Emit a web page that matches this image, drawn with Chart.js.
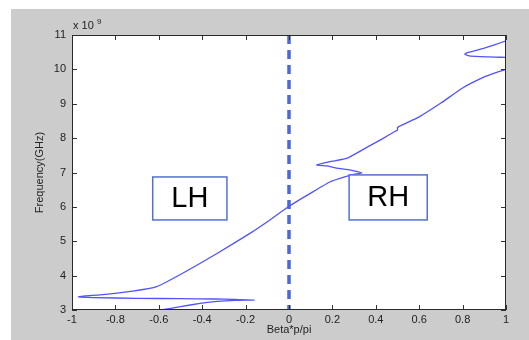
<!DOCTYPE html>
<html lang="en">
<head>
    <meta charset="UTF-8">
    <title>Dispersion</title>
    <script src="https://cdn.jsdelivr.net/npm/chart.js@4.4.1/dist/chart.umd.min.js"></script>
    <style>
        html, body {
            margin: 0;
            padding: 0;
            background: #ffffff;
        }
    </style>
</head>
<body>
    <canvas id="dispersionChart" width="529" height="340"></canvas>

    <script>
        // Beta*p/pi values and frequencies (in units of 1e9 Hz)
        const mainBeta = [
            -0.59, -0.5, -0.41, -0.33, -0.25, -0.157,
            -0.25, -0.35, -0.5, -0.7, -0.9, -0.97,
            -0.94, -0.87, -0.72, -0.61, -0.49, -0.33, -0.18, -0.088,
            0, 0.1, 0.19, 0.26, 0.31, 0.335,
            0.3, 0.266, 0.22, 0.174, 0.128,
            0.158, 0.2, 0.266, 0.35, 0.43, 0.49, 0.5, 0.5, 0.52,
            0.6, 0.7, 0.8, 0.9, 0.95, 1.0
        ];
        const mainFreq = [
            3.0, 3.1, 3.19, 3.25, 3.28, 3.29,
            3.31, 3.32, 3.33, 3.34, 3.36, 3.38,
            3.41, 3.44, 3.55, 3.68, 4.07, 4.65, 5.23, 5.62,
            6.02, 6.4, 6.73, 6.88, 6.96, 6.99,
            7.05, 7.09, 7.13, 7.19, 7.22,
            7.27, 7.33, 7.41, 7.7, 7.98, 8.2, 8.23, 8.31, 8.38,
            8.62, 9.02, 9.46, 9.78, 9.9, 10.0
        ];

        const upperBeta = [1.0, 0.95, 0.9, 0.85, 0.82, 0.81, 0.83, 0.88, 0.95, 1.0];
        const upperFreq = [10.83, 10.72, 10.62, 10.53, 10.48, 10.44, 10.39, 10.37, 10.355, 10.35];

        // boundary between left-handed and right-handed regions
        const boundaryBeta = [0, 0];
        const boundaryFreq = [11, 3];

        const xTicks = [-1, -0.8, -0.6, -0.4, -0.2, 0, 0.2, 0.4, 0.6, 0.8, 1];
        const yTicks = [3, 4, 5, 6, 7, 8, 9, 10, 11];

        // region labels: text, x range, y range (data units)
        const regionNames = ['LH', 'RH'];
        const regionX = [[-0.628, -0.286], [0.277, 0.637]];
        const regionY = [[5.62, 6.87], [5.62, 6.93]];

        function toPoints(xs, ys) {
            return xs.map((x, i) => ({ x: x, y: ys[i] }));
        }

        const curveColor = '#5252ff';

        // MATLAB-style figure: grey frame, inward ticks, box, exponent, labels
        const matlabFrame = {
            id: 'matlabFrame',
            beforeDraw(chart) {
                const ctx = chart.ctx;
                const a = chart.chartArea;
                ctx.save();
                ctx.fillStyle = '#ffffff';
                ctx.fillRect(0, 0, chart.width, chart.height);
                ctx.fillStyle = '#cccccc';
                ctx.fillRect(11, 9, chart.width - 11, chart.height - 9);
                ctx.fillStyle = '#ffffff';
                ctx.fillRect(a.left, a.top, a.right - a.left, a.bottom - a.top);
                ctx.restore();
            },
            afterDraw(chart) {
                const ctx = chart.ctx;
                const a = chart.chartArea;
                const xs = chart.scales.x;
                const ys = chart.scales.y;
                ctx.save();

                // region boxes
                ctx.strokeStyle = '#5470d0';
                ctx.lineWidth = 1.5;
                ctx.font = '29px "Liberation Sans", Arial, sans-serif';
                ctx.textAlign = 'center';
                ctx.textBaseline = 'middle';
                regionNames.forEach((name, i) => {
                    const l = xs.getPixelForValue(regionX[i][0]);
                    const r = xs.getPixelForValue(regionX[i][1]);
                    const t = ys.getPixelForValue(regionY[i][1]);
                    const b = ys.getPixelForValue(regionY[i][0]);
                    ctx.fillStyle = '#ffffff';
                    ctx.fillRect(l, t, r - l, b - t);
                    ctx.strokeRect(l, t, r - l, b - t);
                    ctx.fillStyle = '#000000';
                    ctx.fillText(name, (l + r) / 2, (t + b) / 2 + 1);
                });

                // inward tick marks on all four sides
                ctx.strokeStyle = '#333333';
                ctx.lineWidth = 1;
                ctx.beginPath();
                xTicks.forEach(v => {
                    const px = Math.round(xs.getPixelForValue(v)) + 0.5;
                    ctx.moveTo(px, a.bottom);
                    ctx.lineTo(px, a.bottom - 5);
                    ctx.moveTo(px, a.top);
                    ctx.lineTo(px, a.top + 5);
                });
                yTicks.forEach(v => {
                    const py = Math.round(ys.getPixelForValue(v)) + 0.5;
                    ctx.moveTo(a.left, py);
                    ctx.lineTo(a.left + 5, py);
                    ctx.moveTo(a.right, py);
                    ctx.lineTo(a.right - 5, py);
                });
                ctx.stroke();

                // axes box
                ctx.strokeStyle = '#2a2a2a';
                ctx.strokeRect(a.left + 0.5, a.top + 0.5, a.right - a.left - 1, a.bottom - a.top - 1);

                // exponent label
                ctx.fillStyle = '#222222';
                ctx.textAlign = 'left';
                ctx.textBaseline = 'alphabetic';
                ctx.font = '11px "Liberation Sans", Arial, sans-serif';
                ctx.fillText('x 10', a.left + 1, a.top - 6);
                ctx.font = '8px "Liberation Sans", Arial, sans-serif';
                ctx.fillText('9', a.left + 25, a.top - 11);
                ctx.restore();
            }
        };

        new Chart(document.getElementById('dispersionChart'), {
            type: 'scatter',
            data: {
                datasets: [{
                    data: toPoints(mainBeta, mainFreq),
                    showLine: true,
                    borderColor: curveColor,
                    borderWidth: 1.3,
                    pointRadius: 0,
                    tension: 0.15
                }, {
                    data: toPoints(upperBeta, upperFreq),
                    showLine: true,
                    borderColor: curveColor,
                    borderWidth: 1.3,
                    pointRadius: 0,
                    tension: 0.15
                }, {
                    data: toPoints(boundaryBeta, boundaryFreq),
                    showLine: true,
                    borderColor: '#4a68dc',
                    borderWidth: 3.5,
                    borderDash: [9, 6],
                    pointRadius: 0
                }]
            },
            options: {
                responsive: false,
                animation: false,
                events: [],
                layout: {
                    padding: { left: 0, top: 35, right: 23, bottom: 0 }
                },
                plugins: {
                    legend: { display: false },
                    tooltip: { enabled: false }
                },
                scales: {
                    x: {
                        type: 'linear',
                        min: -1,
                        max: 1,
                        afterBuildTicks(scale) {
                            scale.ticks = xTicks.map(v => ({ value: v }));
                        },
                        afterFit(scale) {
                            scale.height = 30;
                        },
                        grid: { display: false, drawTicks: false },
                        border: { display: false },
                        ticks: {
                            padding: 3,
                            color: '#222222',
                            font: { family: '"Liberation Sans", Arial, sans-serif', size: 11 },
                            callback: v => String(Number(v.toFixed(1)))
                        },
                        title: {
                            display: true,
                            text: 'Beta*p/pi',
                            color: '#222222',
                            padding: { top: 0, bottom: 3 },
                            font: { family: '"Liberation Sans", Arial, sans-serif', size: 11 }
                        }
                    },
                    y: {
                        type: 'linear',
                        min: 3,
                        max: 11,
                        afterBuildTicks(scale) {
                            scale.ticks = yTicks.map(v => ({ value: v }));
                        },
                        afterFit(scale) {
                            scale.width = 72;
                        },
                        grid: { display: false, drawTicks: false },
                        border: { display: false },
                        ticks: {
                            padding: 6,
                            color: '#222222',
                            font: { family: '"Liberation Sans", Arial, sans-serif', size: 11 }
                        },
                        title: {
                            display: true,
                            text: 'Frequency(GHz)',
                            color: '#222222',
                            padding: { top: 33, bottom: 0 },
                            font: { family: '"Liberation Sans", Arial, sans-serif', size: 11 }
                        }
                    }
                }
            },
            plugins: [matlabFrame]
        });
    </script>
</body>
</html>
